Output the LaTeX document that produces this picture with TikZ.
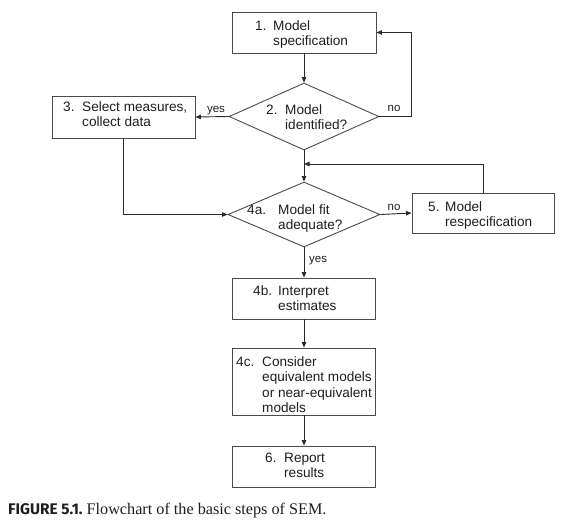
\documentclass[tikz,border=0pt]{standalone}
\usepackage{fontspec}
\setmainfont{Liberation Sans}
\newfontfamily\capsans{Fira Sans}
\newfontfamily\capserif{Liberation Serif}
\usetikzlibrary{shapes.geometric,arrows.meta}
\definecolor{boxline}{HTML}{4A4A4A}
\definecolor{arrline}{HTML}{2A2A2A}
\definecolor{txt}{HTML}{1E1E1E}
\newcommand{\stxt}[3]{\begin{tabular}[t]{@{}p{#1pt}@{}l@{}}#2&#3\end{tabular}}
\begin{document}
\begin{tikzpicture}[x=1pt,y=-1pt,
  box/.style={draw=boxline,line width=0.9pt,rectangle,inner sep=0pt},
  dia/.style={draw=boxline,line width=0.9pt,diamond,inner sep=0pt},
  steptext/.style={anchor=base west,inner sep=0pt,text=txt,font=\fontsize{13.6}{15.5}\selectfont},
  lbl/.style={anchor=base,inner sep=0pt,text=txt,font=\fontsize{11.5}{13}\selectfont},
  conn/.style={draw=arrline,line width=0.9pt,-{Triangle[length=5.5pt,width=4.5pt]}},
  plain/.style={draw=arrline,line width=0.9pt}]
\useasboundingbox (0,0) rectangle (572,522);
% shapes
\node[box,minimum width=144pt,minimum height=41pt] (b1) at (304,32.5) {};
\node[dia,minimum width=150pt,minimum height=67pt] (d2) at (304,116.5) {};
\node[box,minimum width=143pt,minimum height=42pt] (b3) at (123.5,117) {};
\node[dia,minimum width=152pt,minimum height=65pt] (d4) at (304,214.5) {};
\node[box,minimum width=142pt,minimum height=40pt] (b5) at (483,213) {};
\node[box,minimum width=143pt,minimum height=41pt] (b4b) at (304,298.5) {};
\node[box,minimum width=143pt,minimum height=67pt] (b4c) at (304,381.5) {};
\node[box,minimum width=143pt,minimum height=41pt] (b6) at (304,466.5) {};
% texts
\node[steptext] (t1) at (255,30) {\stxt{18}{1.}{Model\\&specification}};
\node[steptext] (t2) at (266,114) {\stxt{19}{2.}{Model\\&identified?}};
\node[steptext] (t3) at (63,111) {\stxt{19}{3.}{Select measures,\\&collect data}};
\node[steptext] (t4a) at (247,214) {\stxt{31}{4a.}{Model fit\\&adequate?}};
\node[steptext] (t5) at (428,211) {\stxt{17}{5.}{Model\\&respecification}};
\node[steptext] (t4b) at (253,295) {\stxt{25}{4b.}{Interpret\\&estimates}};
\node[steptext] (t4c) at (236,366) {\stxt{26}{4c.}{Consider\\&equivalent models\\&or near-equivalent\\&models}};
\node[steptext] (t6) at (265,462) {\stxt{19}{6.}{Report\\&results}};
% connectors
\coordinate (r1) at (411,116.5);
\coordinate (j) at (304,164);
\draw[conn] (b1.south) -- (d2.north);
\draw[conn] (d2.east) -- (r1) |- (b1.east);
\draw[conn] (d2.west) -- (b3.east);
\draw[conn] (d2.south) -- (d4.north);
\draw[conn] (b5.north) |- (j);
\draw[conn] (b3.south) |- (d4.west);
\draw[conn] (d4.east) -- (b5.west);
\draw[conn] (d4.south) -- (b4b.north);
\draw[conn] (b4b.south) -- (b4c.north);
\draw[conn] (b4c.south) -- (b6.north);
% labels
\node[lbl] (l1) at (216,112) {yes};
\node[lbl] (l2) at (394,111) {no};
\node[lbl] (l3) at (394,210) {no};
\node[lbl,anchor=base west] (l4) at (309,262) {yes};
% caption
\node[anchor=base west,inner sep=0pt,text=txt] (cap) at (8,514) {{\capsans\bfseries\fontsize{15.4}{17}\selectfont FIGURE 5.1.}\hspace{4pt}{\capserif\fontsize{16.2}{18}\selectfont Flowchart of the basic steps of SEM.}};
\end{tikzpicture}
\end{document}
